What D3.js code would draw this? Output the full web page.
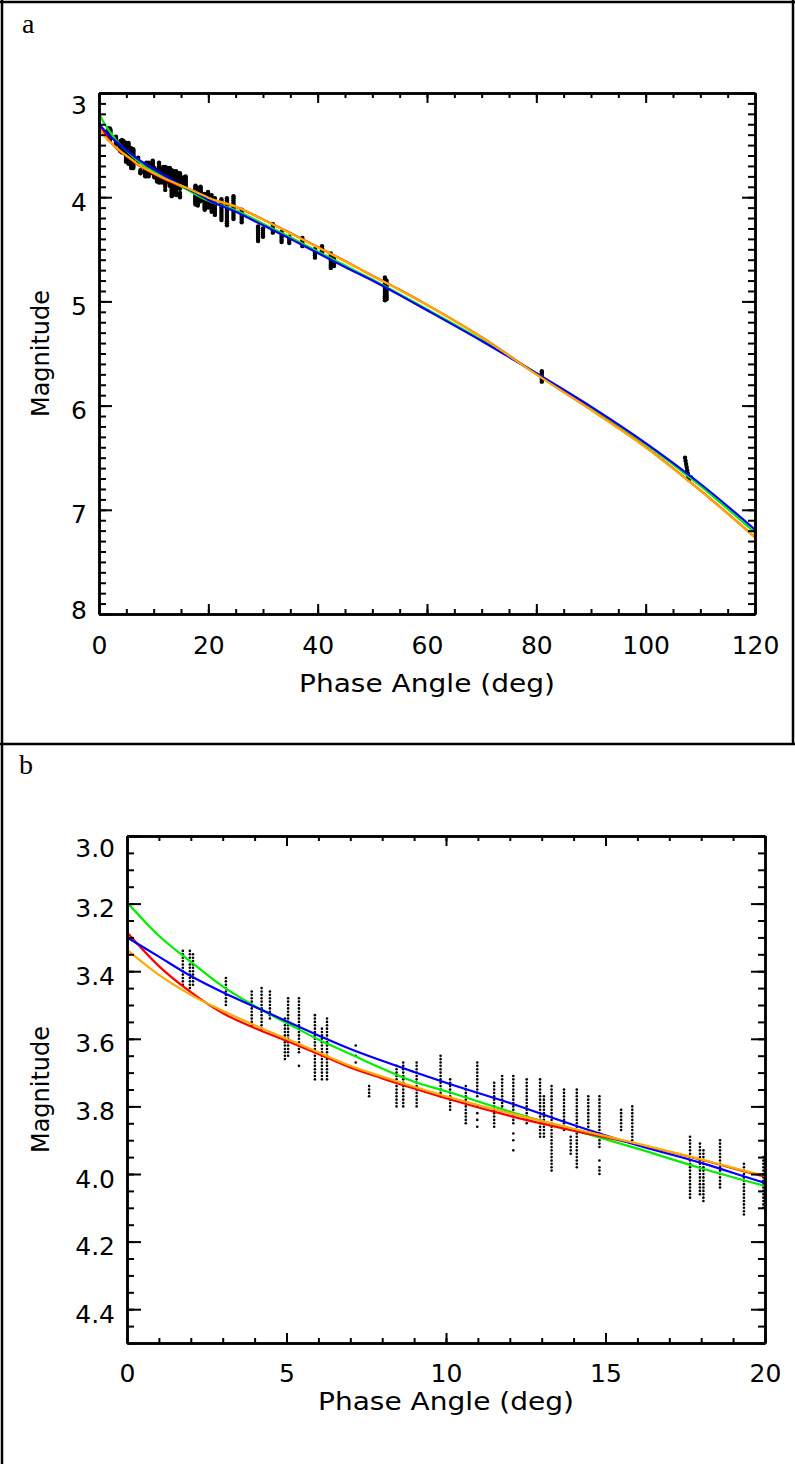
<!DOCTYPE html>
<html>
<head>
<meta charset="utf-8">
<script src="https://cdn.jsdelivr.net/npm/d3@7"></script>
<style>
  body { margin: 0; background: #fff; }
  svg { display: block; }
</style>
</head>
<body>
<div id="chart"></div>
<script>
const PHASE_DEG = [0, 1, 2, 3, 4, 5, 6, 7, 8, 9, 10, 12, 14, 16, 18, 20,
                   25, 30, 35, 40, 45, 50, 55, 60, 70, 80, 90, 100, 110, 120];

// model magnitudes, one per phase angle
const MAG_GREEN = [3.196, 3.295, 3.372, 3.445, 3.503, 3.553, 3.602, 3.645, 3.688, 3.727, 3.755, 3.815, 3.870, 3.925, 3.983, 4.035,
                   4.125, 4.255, 4.385, 4.520, 4.655, 4.790, 4.930, 5.075, 5.370, 5.690, 6.020, 6.370, 6.770, 7.220];
const MAG_RED = [3.285, 3.385, 3.462, 3.524, 3.568, 3.606, 3.645, 3.685, 3.717, 3.747, 3.776, 3.828, 3.872, 3.912, 3.958, 4.008,
                 4.093, 4.213, 4.343, 4.478, 4.613, 4.753, 4.888, 5.033, 5.343, 5.698, 6.038, 6.398, 6.813, 7.263];
const MAG_BLUE = [3.300, 3.357, 3.414, 3.462, 3.505, 3.548, 3.590, 3.630, 3.665, 3.698, 3.730, 3.790, 3.855, 3.915, 3.967, 4.026,
                  4.140, 4.270, 4.400, 4.535, 4.670, 4.800, 4.940, 5.085, 5.380, 5.690, 6.010, 6.360, 6.750, 7.190];
const MAG_ORANGE = [3.337, 3.411, 3.470, 3.517, 3.560, 3.600, 3.640, 3.680, 3.712, 3.742, 3.770, 3.820, 3.866, 3.910, 3.957, 4.005,
                    4.090, 4.215, 4.345, 4.480, 4.615, 4.755, 4.890, 5.035, 5.345, 5.700, 6.040, 6.400, 6.815, 7.265];

// observations: [phase angle, magnitudes measured at that angle]
const OBS_COLUMNS = [
  [1.75, [3.34, 3.35, 3.36, 3.37, 3.38, 3.39, 3.40, 3.41, 3.42, 3.43, 3.44]],
  [1.97, [3.34, 3.35, 3.36, 3.37, 3.38, 3.39, 3.40, 3.41, 3.42, 3.43, 3.44, 3.45]],
  [2.07, [3.35, 3.36, 3.37, 3.38, 3.39, 3.40, 3.41, 3.42, 3.43, 3.44]],
  [3.10, [3.42, 3.43, 3.44, 3.45, 3.46, 3.47, 3.48, 3.49, 3.50]],
  [3.91, [3.46, 3.47, 3.48, 3.49, 3.50, 3.51, 3.52, 3.53, 3.54, 3.55, 3.56]],
  [4.22, [3.45, 3.46, 3.47, 3.48, 3.49, 3.50, 3.51, 3.52, 3.53, 3.54, 3.55, 3.56, 3.57]],
  [4.48, [3.46, 3.47, 3.48, 3.49, 3.50, 3.51, 3.52, 3.53, 3.54]],
  [4.95, [3.54, 3.55, 3.56, 3.57, 3.58, 3.59, 3.60, 3.61, 3.62, 3.63, 3.64, 3.65, 3.66]],
  [5.05, [3.48, 3.49, 3.50, 3.51, 3.52, 3.53, 3.54, 3.55, 3.56, 3.57, 3.58, 3.59, 3.60, 3.61, 3.62, 3.63, 3.64, 3.65]],
  [5.39, [3.48, 3.49, 3.50, 3.51, 3.52, 3.53, 3.54, 3.55, 3.56, 3.57, 3.58, 3.59, 3.60, 3.61, 3.62, 3.63, 3.64, 3.68]],
  [5.89, [3.53, 3.54, 3.55, 3.56, 3.57, 3.58, 3.59, 3.60, 3.61, 3.62, 3.63, 3.64, 3.65, 3.66, 3.67, 3.68, 3.69, 3.70, 3.71, 3.72]],
  [6.11, [3.57, 3.58, 3.59, 3.60, 3.61, 3.62, 3.63, 3.64, 3.65, 3.66, 3.67, 3.68, 3.69, 3.70, 3.71, 3.72]],
  [6.27, [3.54, 3.55, 3.56, 3.57, 3.58, 3.59, 3.60, 3.61, 3.62, 3.63, 3.64, 3.65, 3.66, 3.67, 3.68, 3.69, 3.70, 3.71, 3.72]],
  [7.17, [3.62, 3.65, 3.67]],
  [7.59, [3.74, 3.75, 3.76, 3.77]],
  [8.45, [3.68, 3.69, 3.70, 3.71, 3.72, 3.73, 3.74, 3.75, 3.76, 3.77, 3.78, 3.79, 3.80]],
  [8.66, [3.67, 3.68, 3.69, 3.70, 3.71, 3.72, 3.73, 3.74, 3.75, 3.76, 3.77, 3.78, 3.79, 3.80]],
  [9.08, [3.67, 3.68, 3.69, 3.70, 3.71, 3.72, 3.73, 3.74, 3.75, 3.76, 3.77, 3.78, 3.79, 3.80]],
  [9.83, [3.65, 3.66, 3.67, 3.68, 3.69, 3.70, 3.71, 3.72, 3.73, 3.74, 3.75, 3.76, 3.77]],
  [10.13, [3.72, 3.73, 3.74, 3.75, 3.76, 3.77, 3.78, 3.79, 3.80, 3.81]],
  [10.62, [3.74, 3.75, 3.76, 3.77, 3.78, 3.79, 3.80, 3.81, 3.82, 3.83, 3.84, 3.85]],
  [10.98, [3.67, 3.68, 3.69, 3.70, 3.71, 3.72, 3.73, 3.74, 3.75, 3.76, 3.77, 3.80, 3.82, 3.84, 3.86]],
  [11.51, [3.73, 3.74, 3.75, 3.76, 3.77, 3.78, 3.79, 3.80, 3.81, 3.82, 3.83, 3.84, 3.85, 3.86]],
  [11.76, [3.71, 3.72, 3.73, 3.74, 3.75, 3.76, 3.77, 3.78, 3.79, 3.80]],
  [12.11, [3.71, 3.72, 3.73, 3.74, 3.75, 3.76, 3.77, 3.78, 3.79, 3.80, 3.81, 3.82, 3.83, 3.84, 3.85, 3.88, 3.90, 3.93]],
  [12.53, [3.72, 3.73, 3.74, 3.75, 3.76, 3.77, 3.78, 3.79, 3.80, 3.81, 3.82, 3.83, 3.84, 3.85]],
  [12.95, [3.72, 3.73, 3.74, 3.75, 3.76, 3.77, 3.78, 3.79, 3.80, 3.81, 3.82, 3.83, 3.84, 3.85, 3.86, 3.87, 3.88, 3.89]],
  [13.07, [3.77, 3.78, 3.79, 3.80, 3.81, 3.82, 3.83, 3.84, 3.85, 3.86, 3.87, 3.88, 3.89]],
  [13.31, [3.74, 3.75, 3.76, 3.77, 3.78, 3.79, 3.80, 3.81, 3.82, 3.83, 3.84, 3.85, 3.86, 3.87, 3.88, 3.89,
           3.90, 3.91, 3.92, 3.93, 3.94, 3.95, 3.96, 3.97, 3.98, 3.99]],
  [13.70, [3.75, 3.76, 3.77, 3.78, 3.79, 3.80, 3.81, 3.82, 3.83, 3.84, 3.85, 3.86, 3.87]],
  [13.91, [3.89, 3.90, 3.91, 3.92, 3.93, 3.94]],
  [14.10, [3.75, 3.76, 3.77, 3.78, 3.79, 3.80, 3.81, 3.82, 3.83, 3.84, 3.85, 3.86, 3.87, 3.88, 3.89, 3.90,
           3.91, 3.92, 3.93, 3.94, 3.95, 3.96, 3.97, 3.98]],
  [14.46, [3.77, 3.78, 3.79, 3.80, 3.81, 3.82, 3.83, 3.84, 3.85, 3.86]],
  [14.81, [3.77, 3.78, 3.79, 3.80, 3.81, 3.82, 3.83, 3.84, 3.85, 3.86, 3.87, 3.88, 3.89, 3.90, 3.91, 3.92,
           3.96, 3.98, 3.99, 4.00]],
  [15.49, [3.81, 3.82, 3.83, 3.84, 3.85, 3.86, 3.87]],
  [15.84, [3.80, 3.81, 3.82, 3.83, 3.84, 3.85, 3.86, 3.87, 3.88, 3.89, 3.90]],
  [17.65, [3.89, 3.90, 3.91, 3.92, 3.93, 3.94, 3.95, 3.96, 3.97, 3.98, 3.99, 4.00, 4.01, 4.02, 4.03, 4.04, 4.05, 4.06, 4.07]],
  [17.96, [3.91, 3.92, 3.93, 3.94, 3.95, 3.96, 3.97, 3.98, 3.99, 4.00, 4.01, 4.02, 4.03, 4.04, 4.05, 4.06]],
  [18.07, [3.93, 3.94, 3.95, 3.96, 3.97, 3.98, 3.99, 4.00, 4.01, 4.02, 4.03, 4.04, 4.05, 4.06, 4.07, 4.08]],
  [18.59, [3.90, 3.91, 3.92, 3.93, 3.94, 3.95, 3.96, 3.97, 3.98, 3.99, 4.00, 4.01, 4.02, 4.03, 4.04]],
  [19.34, [3.97, 3.98, 3.99, 4.00, 4.01, 4.02, 4.03, 4.04, 4.05, 4.06, 4.07, 4.08, 4.09, 4.10, 4.11, 4.12]],
  [19.95, [3.95, 3.96, 3.97, 3.98, 3.99, 4.00, 4.01, 4.02, 4.03, 4.04, 4.05, 4.06, 4.07, 4.08, 4.09, 4.10]],
  [20.6, [3.98, 4.00, 4.02, 4.04, 4.06, 4.08, 4.10, 4.12, 4.14]],
  [21.2, [4.01, 4.03, 4.05, 4.07, 4.09, 4.11, 4.13, 4.15, 4.17]],
  [22.4, [4.02, 4.04, 4.06, 4.08, 4.10, 4.12, 4.14, 4.16, 4.18, 4.20, 4.22]],
  [23.4, [4.01, 4.03, 4.05, 4.07, 4.09, 4.11, 4.13, 4.15, 4.17, 4.19, 4.21, 4.23, 4.25, 4.27]],
  [24.6, [3.99, 4.01, 4.03, 4.05, 4.07, 4.09, 4.11, 4.13, 4.15, 4.17, 4.19, 4.21]],
  [26.1, [4.12, 4.14, 4.16, 4.18, 4.20, 4.22, 4.24]],
  [29.1, [4.28, 4.30, 4.32, 4.34, 4.36, 4.38, 4.40, 4.42]],
  [30.0, [4.30, 4.32, 4.34, 4.36, 4.38]],
  [31.8, [4.26, 4.28, 4.30, 4.32, 4.34]],
  [33.4, [4.33, 4.35, 4.37, 4.39, 4.41, 4.43]],
  [34.8, [4.38, 4.40, 4.42, 4.44]],
  [37.2, [4.39, 4.41, 4.43, 4.45, 4.47]],
  [39.5, [4.50, 4.52, 4.54, 4.56, 4.58]],
  [40.8, [4.47, 4.49, 4.51, 4.53]],
  [42.4, [4.54, 4.56, 4.58, 4.60, 4.62, 4.64, 4.66, 4.68]],
  [43.0, [4.58, 4.60, 4.62, 4.64, 4.66]],
  [52.3, [4.77, 4.79, 4.81, 4.83, 4.85, 4.87, 4.89, 4.91, 4.93, 4.95, 4.97, 4.99]],
  [52.6, [4.80, 4.82, 4.84, 4.86, 4.88, 4.90, 4.92, 4.94, 4.96, 4.98]],
  [81.0, [5.67, 5.69, 5.71, 5.73, 5.75, 5.77]],
  [107.2, [6.50]], [107.3, [6.53]], [107.4, [6.56]], [107.5, [6.59]], [107.6, [6.62]],
  [107.7, [6.65]], [107.8, [6.68]], [107.9, [6.71]], [108.3, [6.69]]
];

const CURVES = [
  {color: "#00ee00", mags: MAG_GREEN},
  {color: "#ff0000", mags: MAG_RED},
  {color: "#0000ff", mags: MAG_BLUE},
  {color: "#ffaa00", mags: MAG_ORANGE}
];

const FRAME_WIDTH = 795;
const FRAME_HEIGHT = 1464;
const AXIS_FONT = "DejaVu Sans";

const PANELS = [
  {id: "a", tag: [22, 33], left: 99, right: 755, top: 93, bottom: 614,
   xDomain: [0, 120], xMajor: 20, xMinor: 5,
   yDomain: [3, 8], yMajor: 1, yMinor: 0.1, yFormat: d3.format("d"),
   xLen: 10, xMinLen: 5, yLen: 13, yMinLen: 7,
   xPad: 22, titleY: 692, dotR: 2.2},
  {id: "b", tag: [19, 774], left: 127, right: 765, top: 836, bottom: 1343,
   xDomain: [0, 20], xMajor: 5, xMinor: 1,
   yDomain: [3, 4.5], yMajor: 0.2, yMinor: 0.05, yFormat: d3.format(".1f"),
   xLen: 10, xMinLen: 5, yLen: 14, yMinLen: 7,
   xPad: 21, titleY: 1410, dotR: 1.3}
];

const SVG = d3.select("#chart")
  .append("svg")
    .attr("width", FRAME_WIDTH)
    .attr("height", FRAME_HEIGHT);

// frame lines round the two panels
const FRAME_LINES = [[0, 2, FRAME_WIDTH, 2], [2, 0, 2, FRAME_HEIGHT],
                     [793, 0, 793, 744], [0, 744, FRAME_WIDTH, 744]];
SVG.selectAll(".frame")
  .data(FRAME_LINES)
  .enter().append("line")
    .attr("x1", d => d[0]).attr("y1", d => d[1])
    .attr("x2", d => d[2]).attr("y2", d => d[3])
    .attr("stroke", "#000")
    .attr("stroke-width", 2.5);

// ticks between lo and hi at a given step
function steps(lo, hi, step) {
  const n = Math.round((hi - lo) / step);
  return d3.range(n + 1).map(i => +(lo + i * step).toFixed(4));
}

function styleAxis(g) {
  g.attr("font-family", AXIS_FONT).attr("font-size", 25);
  g.selectAll("path.domain").attr("stroke-width", 2.5);
  g.selectAll(".tick line").attr("stroke-width", 2);
  g.selectAll(".tick text").attr("fill", "#000");
}

function drawPanel(p) {
  const X = d3.scaleLinear().domain(p.xDomain).range([p.left, p.right]);
  const Y = d3.scaleLinear().domain(p.yDomain).range([p.top, p.bottom]);

  const clipId = "clip-" + p.id;
  SVG.append("clipPath").attr("id", clipId)
    .append("rect")
      .attr("x", p.left).attr("y", p.top)
      .attr("width", p.right - p.left).attr("height", p.bottom - p.top);

  const plot = SVG.append("g").attr("clip-path", "url(#" + clipId + ")");

  // observed points
  const pts = OBS_COLUMNS
    .filter(c => c[0] <= p.xDomain[1] + 0.01)
    .flatMap(c => c[1].map(m => [c[0], m]));

  plot.selectAll(".obs")
    .data(pts)
    .enter().append("circle")
      .attr("class", "obs")
      .attr("cx", d => X(d[0]))
      .attr("cy", d => Y(d[1]))
      .attr("r", p.dotR)
      .attr("fill", "#000");

  // model curves
  CURVES.forEach(c => {
    const line = d3.line()
      .x((d, i) => X(PHASE_DEG[i]))
      .y(d => Y(d))
      .curve(d3.curveMonotoneX);
    plot.append("path")
      .attr("d", line(c.mags))
      .attr("fill", "none")
      .attr("stroke", c.color)
      .attr("stroke-width", 2.2);
  });

  const xMinor = steps(p.xDomain[0], p.xDomain[1], p.xMinor);
  const xMajor = steps(p.xDomain[0], p.xDomain[1], p.xMajor);
  const yMinor = steps(p.yDomain[0], p.yDomain[1], p.yMinor);
  const yMajor = steps(p.yDomain[0], p.yDomain[1], p.yMajor).filter(v => v <= p.yDomain[1]);

  // minor ticks on all four sides
  SVG.append("g").attr("transform", "translate(0," + p.bottom + ")")
    .call(d3.axisBottom(X).tickValues(xMinor).tickSize(-p.xMinLen).tickSizeOuter(0).tickFormat(""))
    .call(styleAxis);
  SVG.append("g").attr("transform", "translate(0," + p.top + ")")
    .call(d3.axisTop(X).tickValues(xMinor).tickSize(-p.xMinLen).tickSizeOuter(0).tickFormat(""))
    .call(styleAxis);
  SVG.append("g").attr("transform", "translate(" + p.left + ",0)")
    .call(d3.axisLeft(Y).tickValues(yMinor).tickSize(-p.yMinLen).tickSizeOuter(0).tickFormat(""))
    .call(styleAxis);
  SVG.append("g").attr("transform", "translate(" + p.right + ",0)")
    .call(d3.axisRight(Y).tickValues(yMinor).tickSize(-p.yMinLen).tickSizeOuter(0).tickFormat(""))
    .call(styleAxis);

  // major ticks, labelled on bottom and left
  SVG.append("g").attr("transform", "translate(0," + p.bottom + ")")
    .call(d3.axisBottom(X).tickValues(xMajor).tickSize(-p.xLen).tickSizeOuter(0)
      .tickPadding(p.xPad).tickFormat(d3.format("d")))
    .call(styleAxis);
  SVG.append("g").attr("transform", "translate(0," + p.top + ")")
    .call(d3.axisTop(X).tickValues(xMajor).tickSize(-p.xLen).tickSizeOuter(0).tickFormat(""))
    .call(styleAxis);
  const yAxis = SVG.append("g").attr("transform", "translate(" + p.left + ",0)")
    .call(d3.axisLeft(Y).tickValues(yMajor).tickSize(-p.yLen).tickSizeOuter(0)
      .tickPadding(12).tickFormat(p.yFormat))
    .call(styleAxis);
  SVG.append("g").attr("transform", "translate(" + p.right + ",0)")
    .call(d3.axisRight(Y).tickValues(yMajor).tickSize(-p.yLen).tickSizeOuter(0).tickFormat(""))
    .call(styleAxis);

  // end labels sit inside the axis range
  yAxis.selectAll(".tick text")
    .attr("dy", d => d === p.yDomain[0] ? "0.8em" : (d === p.yDomain[1] ? "0.16em" : "0.52em"));

  // axis titles
  SVG.append("text")
    .attr("x", (p.left + p.right) / 2)
    .attr("y", p.titleY)
    .attr("text-anchor", "middle")
    .attr("font-family", AXIS_FONT)
    .attr("font-size", 25)
    .attr("textLength", 256)
    .attr("lengthAdjust", "spacingAndGlyphs")
    .text("Phase Angle (deg)");

  SVG.append("text")
    .attr("transform", "translate(49," + (p.top + p.bottom) / 2 + ") rotate(-90)")
    .attr("text-anchor", "middle")
    .attr("font-family", AXIS_FONT)
    .attr("font-size", 24)
    .text("Magnitude");

  // panel letter
  SVG.append("text")
    .attr("x", p.tag[0])
    .attr("y", p.tag[1])
    .attr("font-family", "Liberation Serif")
    .attr("font-size", 28)
    .text(p.id);
}

PANELS.forEach(drawPanel);
</script>
</body>
</html>
